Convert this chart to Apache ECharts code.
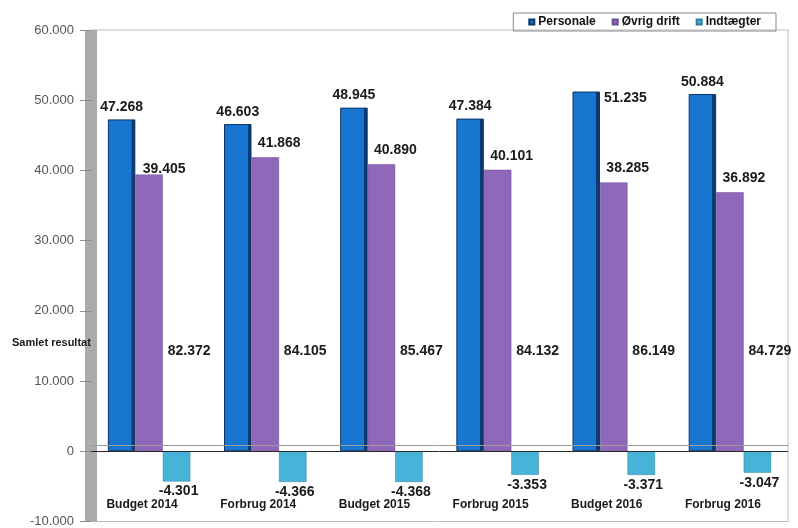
<!DOCTYPE html>
<html>
<head>
<meta charset="utf-8">
<script src="https://cdn.jsdelivr.net/npm/echarts@6/dist/echarts.min.js"></script>
<style>
html,body{margin:0;padding:0;background:#fff;}
#chart{width:798px;height:528px;}
</style>
</head>
<body>
<div id="chart"></div>
<script>
const categories = ['Budget 2014', 'Forbrug 2014', 'Budget 2015', 'Forbrug 2015', 'Budget 2016', 'Forbrug 2016'];
const personale = [47268, 46603, 48945, 47384, 51235, 50884];
const ovrigDrift = [39405, 41868, 40890, 40101, 38285, 36892];
const indtaegter = [-4301, -4366, -4368, -3353, -3371, -3047];
const samletResultat = [82372, 84105, 85467, 84132, 86149, 84729];
const seriesNames = ['Personale', 'Øvrig drift', 'Indtægter'];
const totalName = 'Samlet resultat';
const yMin = -10000, yMax = 60000, yStep = 10000;

function fmt(n) {
  const s = String(Math.abs(Math.round(n))).replace(/\B(?=(\d{3})+(?!\d))/g, '.');
  return (n < 0 ? '-' : '') + s;
}

function rightEdge(main, edge, at) {
  return new echarts.graphic.LinearGradient(0, 0, 1, 0, [
    {offset: 0, color: main},
    {offset: at, color: main},
    {offset: at + 0.001, color: edge},
    {offset: 1, color: edge}
  ]);
}

const TOTAL_ANCHOR = 14200;
const FONT = 'Liberation Sans, Arial, sans-serif';
const labelFont = {fontFamily: FONT, fontWeight: 'bold', fontSize: 14, color: '#1a1a1a'};

// label placed beside the bar where the reference moves it to avoid crowding
const personaleLabelSide = {4: {position: ['100%', 0], align: 'left', verticalAlign: 'middle', offset: [4, 7]}};
const ovrigLabelTweak = {0: {offset: [15, 7]}};

const chart = echarts.init(document.getElementById('chart'), null, {renderer: 'canvas'});
chart.setOption({
  animation: false,
  backgroundColor: '#fff',
  textStyle: {fontFamily: FONT},
  grid: {left: 91, right: 10, top: 30, bottom: 5, show: true, borderColor: '#bdbdbd', borderWidth: 1},
  legend: {
    data: seriesNames,
    top: 13, right: 22,
    orient: 'horizontal',
    borderColor: '#8a8a8a', borderWidth: 1,
    padding: [3, 15, 3, 15],
    itemWidth: 5, itemHeight: 5, itemGap: 16,
    icon: 'rect',
    textStyle: {fontFamily: FONT, fontWeight: 'bold', fontSize: 12, color: '#111', padding: [0, 0, 0, -1]}
  },
  graphic: [{
    type: 'text', left: 12, top: 337, z: 100,
    style: {text: totalName, fontFamily: FONT, fontWeight: 'bold', fontSize: 11, fill: '#1a1a1a'}
  }],
  xAxis: {
    type: 'category',
    data: categories,
    position: 'bottom',
    axisLine: {show: false},
    axisTick: {show: false},
    axisLabel: {inside: true, margin: 11, padding: [0, 14, 0, 0], fontFamily: FONT, fontWeight: 'bold', fontSize: 12, color: '#1a1a1a'}
  },
  yAxis: {
    type: 'value',
    min: yMin, max: yMax, interval: yStep,
    axisLine: {show: true, lineStyle: {color: '#ababab', width: 12, cap: 'butt'}},
    axisTick: {show: true, length: 11, lineStyle: {color: '#8a8a8a'}},
    splitLine: {show: false},
    axisLabel: {margin: 17, fontSize: 13, color: '#555', formatter: fmt}
  },
  series: [
    {
      type: 'line', data: [], silent: true, z: 1,
      markLine: {
        silent: true, symbol: 'none', label: {show: false},
        data: [{yAxis: 800, lineStyle: {color: '#9a9a9a', width: 1, type: 'solid'}}]
      }
    },
    {
      name: seriesNames[0], type: 'bar', z: 3,
      data: personale.map((v, i) => personaleLabelSide[i] ? {value: v, label: personaleLabelSide[i]} : v),
      barGap: '0%', barCategoryGap: '29%',
      itemStyle: {color: rightEdge('#1876d0', '#0b3a72', 0.86), borderColor: '#0b3568', borderWidth: 1},
      label: {show: true, position: 'top', distance: 5, formatter: p => fmt(p.value), ...labelFont}
    },
    {
      name: seriesNames[1], type: 'bar', z: 3,
      data: ovrigDrift.map((v, i) => ovrigLabelTweak[i] ? {value: v, label: ovrigLabelTweak[i]} : v),
      itemStyle: {color: '#9068b9', borderColor: '#6e4c94', borderWidth: 0.5},
      label: {show: true, position: 'top', distance: 5, offset: [14, -2], formatter: p => fmt(p.value), ...labelFont}
    },
    {
      name: seriesNames[2], type: 'bar', data: indtaegter, z: 3,
      itemStyle: {color: '#48b3d8', borderColor: '#2e7f9c', borderWidth: 0.5},
      label: {show: true, position: 'bottom', distance: 3, offset: [2, 0], formatter: p => fmt(p.value), ...labelFont}
    },
    {
      name: totalName, type: 'scatter', z: 4, symbolSize: 1,
      itemStyle: {opacity: 1, color: 'rgba(0,0,0,0)'},
      data: categories.map((c, i) => [i, TOTAL_ANCHOR]),
      label: {show: true, position: 'inside', offset: [40, 0], formatter: p => fmt(samletResultat[p.dataIndex]), ...labelFont},
      markLine: {
        silent: true, symbol: 'none', label: {show: false},
        data: [{yAxis: 0, lineStyle: {color: '#2a2a2a', width: 1, type: 'solid'}}]
      }
    }
  ]
});
</script>
</body>
</html>
